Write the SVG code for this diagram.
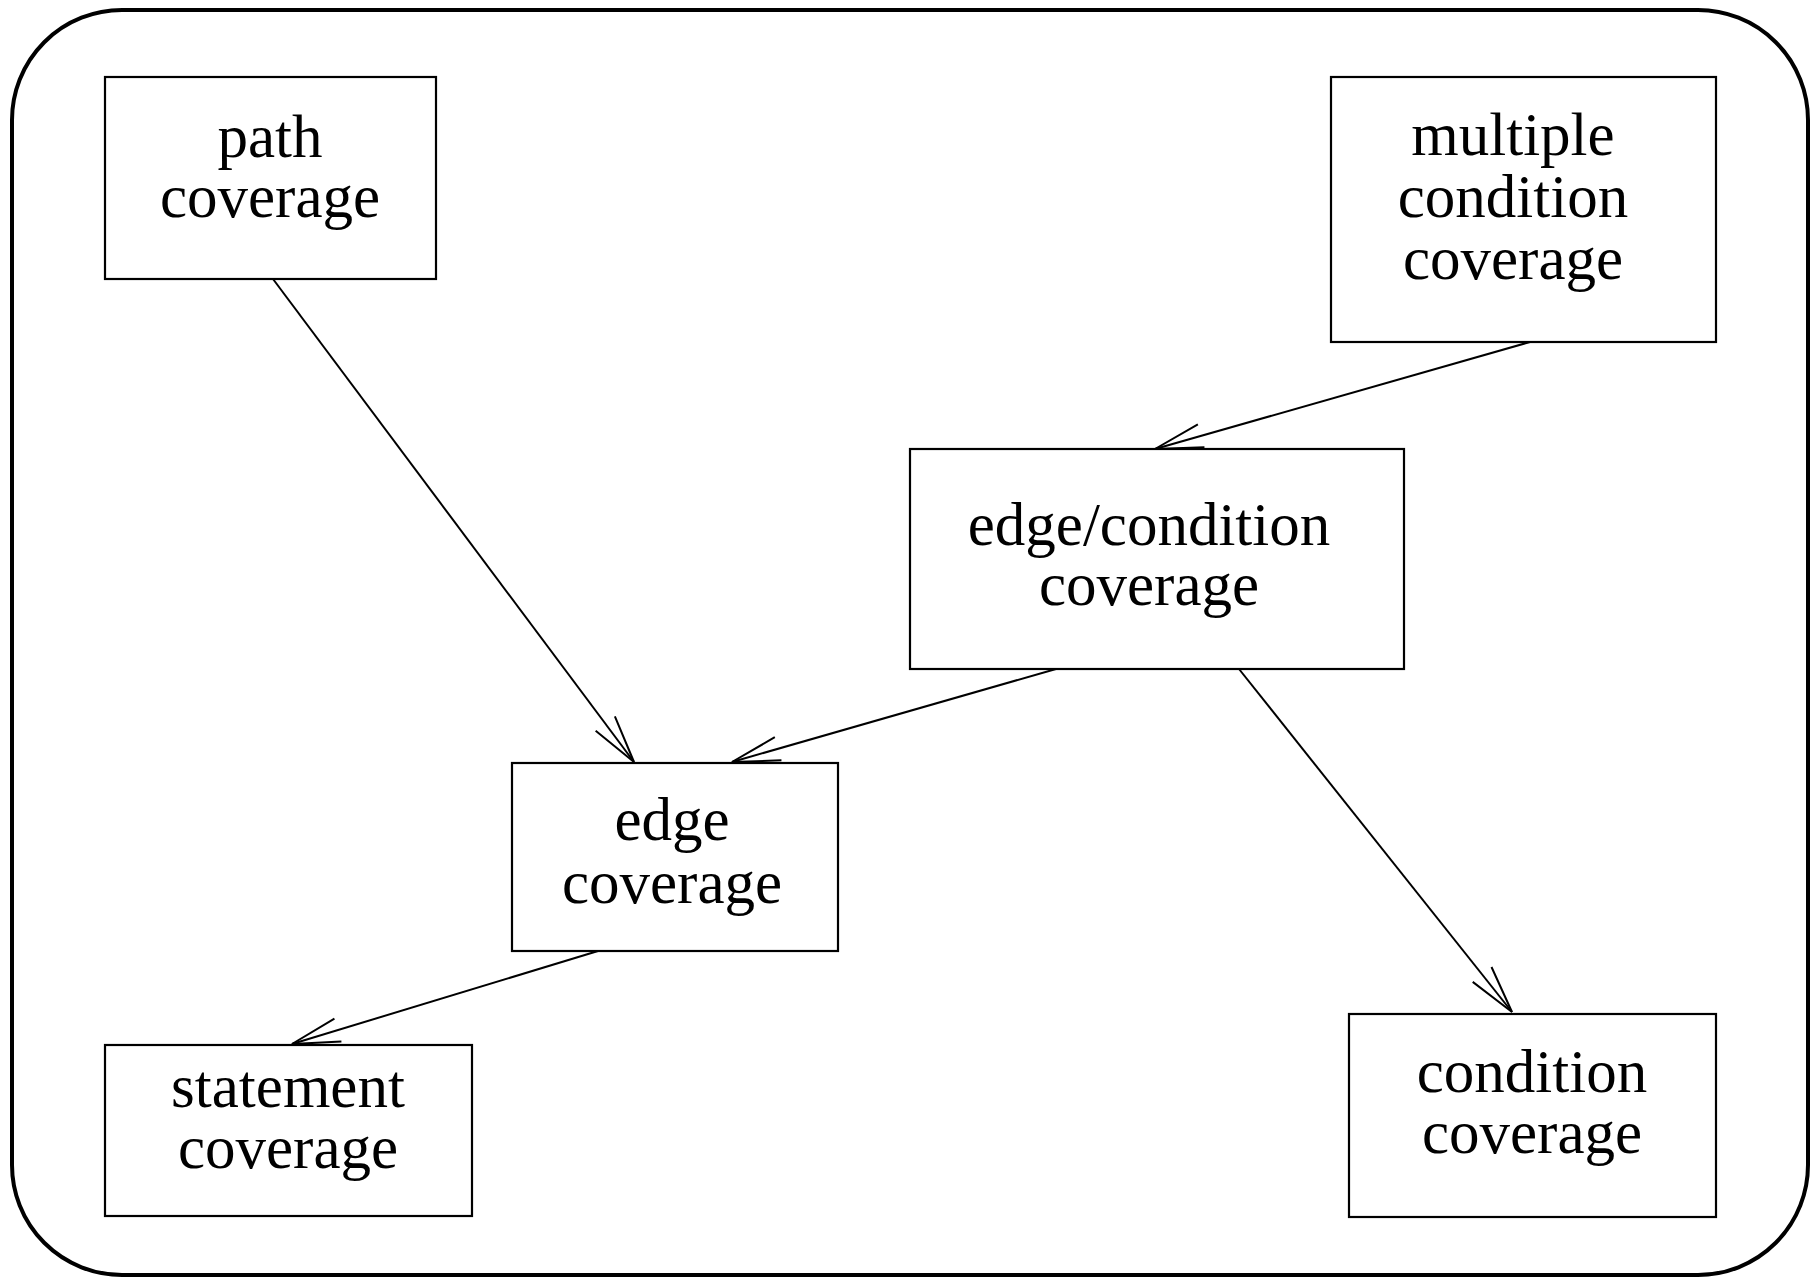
<svg xmlns="http://www.w3.org/2000/svg" width="1811" height="1278" viewBox="0 0 1811 1278">
<style>
.box{fill:#fff;stroke:#000;stroke-width:2.2}
.lbl{font-family:"Liberation Serif","Times New Roman",serif;font-size:61px;fill:#000;text-anchor:middle}
.edge{stroke:#000;stroke-width:2;fill:none;marker-end:url(#arr)}
</style>
<defs>
<marker id="arr" markerUnits="userSpaceOnUse" markerWidth="60" markerHeight="40" viewBox="-55 -20 60 40" refX="0" refY="0" orient="auto" overflow="visible">
<path d="M-48,-12 L0,0 L-48,12" fill="none" stroke="#000" stroke-width="2"/>
</marker>
</defs>
<rect x="12" y="10" width="1796" height="1265" rx="110" ry="110" fill="#fff" stroke="#000" stroke-width="4"/>
<g id="connectors">
<line class="edge" x1="273" y1="279" x2="634" y2="762"/>
<line class="edge" x1="1530" y1="342" x2="1155" y2="449"/>
<line class="edge" x1="1056" y1="669" x2="732" y2="762"/>
<line class="edge" x1="1239" y1="669" x2="1512" y2="1012"/>
<line class="edge" x1="598" y1="951" x2="292" y2="1044"/>
</g>
<g id="path-coverage">
<rect class="box" x="105" y="77" width="331" height="202"/>
<text class="lbl" x="270" y="157">path</text>
<text class="lbl" x="270" y="217">coverage</text>
</g>
<g id="multiple-condition-coverage">
<rect class="box" x="1331" y="77" width="385" height="265"/>
<text class="lbl" x="1513" y="155">multiple</text>
<text class="lbl" x="1513" y="217">condition</text>
<text class="lbl" x="1513" y="279">coverage</text>
</g>
<g id="edge-condition-coverage">
<rect class="box" x="910" y="449" width="494" height="220"/>
<text class="lbl" x="1149" y="545">edge/condition</text>
<text class="lbl" x="1149" y="605">coverage</text>
</g>
<g id="edge-coverage">
<rect class="box" x="512" y="763" width="326" height="188"/>
<text class="lbl" x="672" y="840">edge</text>
<text class="lbl" x="672" y="903">coverage</text>
</g>
<g id="statement-coverage">
<rect class="box" x="105" y="1045" width="367" height="171"/>
<text class="lbl" x="288" y="1107">statement</text>
<text class="lbl" x="288" y="1168">coverage</text>
</g>
<g id="condition-coverage">
<rect class="box" x="1349" y="1014" width="367" height="203"/>
<text class="lbl" x="1532" y="1092">condition</text>
<text class="lbl" x="1532" y="1153">coverage</text>
</g>
</svg>
